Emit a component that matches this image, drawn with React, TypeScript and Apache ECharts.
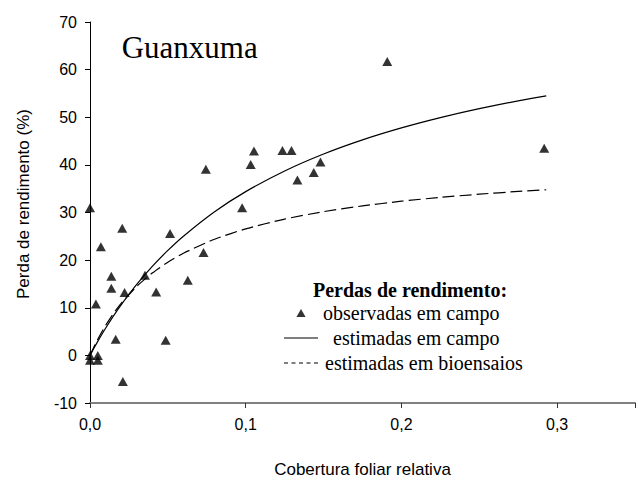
import React, { useEffect, useRef } from 'react';
import * as echarts from 'echarts';

const obsX = [
  0, 0.0207, 0.0514, 0.0744, 0.0977, 0.1032, 0.1053, 0.1236, 0.1294, 0.1332,
  0.1437, 0.148, 0.1909, 0.2917, 0.007, 0.0137, 0.0137, 0.0222, 0.0038, 0.0165,
  0.0211, 0.0353, 0.0425, 0.0486, 0.0628, 0.0729, 0, 0.005, 0, 0.005,
];
const obsY = [
  31, 26.7, 25.6, 39.1, 31.0, 40.1, 42.9, 43.0, 43.0, 36.8,
  38.4, 40.6, 61.7, 43.5, 22.8, 16.6, 14.1, 13.2, 10.8, 3.4,
  -5.5, 16.8, 13.3, 3.2, 15.8, 21.6, 0, 0, -1, -1,
];

// Fitted curves
const curveX = [
  0, 0.0025, 0.005, 0.01, 0.015, 0.02, 0.03, 0.04, 0.05, 0.06,
  0.08, 0.1, 0.125, 0.15, 0.175, 0.2, 0.225, 0.25, 0.275, 0.293,
];
const fieldY = [
  0, 1.5, 2.95, 5.69, 8.23, 10.61, 14.9, 18.68, 22.04, 25.03,
  30.16, 34.38, 38.72, 42.28, 45.25, 47.76, 49.92, 51.8, 53.44, 54.5,
];
const bioY = [
  0, 1.78, 3.4, 6.29, 8.77, 10.92, 14.48, 17.29, 19.57, 21.45,
  24.39, 26.57, 28.62, 30.18, 31.39, 32.37, 33.17, 33.85, 34.42, 34.78,
];

const xTickLabels = ['0,0', '0,1', '0,2', '0,3'];
const seriesNames = ['observadas em campo', 'estimadas em campo', 'estimadas em bioensaios'];
const chartTitle = 'Guanxuma';
const legendTitle = 'Perdas de rendimento:';
const xTitle = 'Cobertura foliar relativa';
const yTitle = 'Perda de rendimento (%)';

const SANS = '"Liberation Sans", Arial, sans-serif';
const SERIF = '"Liberation Serif", "Times New Roman", serif';

export default function App() {
  const ref = useRef<HTMLDivElement>(null);

  useEffect(() => {
    if (!ref.current) return;
    const chart = echarts.init(ref.current, null, { renderer: 'svg' });
    chart.setOption({
      animation: false,
      backgroundColor: '#ffffff',
      grid: { left: 90, top: 22, width: 552, height: 387 },
      xAxis: {
        type: 'value',
        min: 0,
        max: 0.35,
        interval: 0.1,
        name: xTitle,
        nameLocation: 'middle',
        nameGap: 58,
        nameTextStyle: { fontFamily: SANS, fontSize: 17, color: '#000' },
        axisLine: { show: true, onZero: false, lineStyle: { color: '#808080', width: 2 } },
        axisTick: { show: true, length: 5, lineStyle: { color: '#333', width: 1 } },
        splitLine: { show: false },
        axisLabel: {
          fontFamily: SANS,
          fontSize: 16,
          color: '#000',
          margin: 13,
          formatter: (v: number) => {
            const idx = Math.round(v / 0.1);
            return Math.abs(v - idx * 0.1) < 1e-6 ? xTickLabels[idx] ?? '' : '';
          },
        },
      },
      yAxis: {
        type: 'value',
        min: -10,
        max: 70,
        interval: 10,
        name: yTitle,
        nameLocation: 'middle',
        nameGap: 58,
        nameTextStyle: { fontFamily: SANS, fontSize: 17, color: '#000', padding: [0, 0, 0, 17] },
        axisLine: { show: true, onZero: false, lineStyle: { color: '#000', width: 1 } },
        axisTick: { show: true, length: 5, lineStyle: { color: '#000', width: 1 } },
        splitLine: { show: false },
        axisLabel: { fontFamily: SANS, fontSize: 16, color: '#000', margin: 13 },
      },
      legend: {
        orient: 'vertical',
        left: 284,
        top: 303,
        padding: 0,
        itemGap: 5,
        itemWidth: 34,
        itemHeight: 8,
        selectedMode: false,
        textStyle: { fontFamily: SERIF, fontSize: 20, color: '#000', lineHeight: 20 },
        data: [
          { name: seriesNames[0], icon: 'path://M4,0L8,7H0Z' },
          { name: seriesNames[1], icon: 'path://M0,0H34V1.2H0Z', textStyle: { padding: [0, 0, 0, 10] } },
          {
            name: seriesNames[2],
            icon: 'path://M0,0H4V1.2H0Z M7.5,0H11.5V1.2H7.5Z M15,0H19V1.2H15Z M22.5,0H26.5V1.2H22.5Z M30,0H34V1.2H30Z',
            textStyle: { padding: [0, 0, 0, 2] },
          },
        ],
      },
      graphic: [
        {
          type: 'text',
          x: 121.7,
          y: 47.8,
          style: {
            text: chartTitle,
            fontFamily: SERIF,
            fontSize: 31,
            fill: '#000',
            textAlign: 'left',
            textVerticalAlign: 'middle',
            verticalAlign: 'middle',
          },
        },
        {
          type: 'text',
          x: 313,
          y: 290,
          style: {
            text: legendTitle,
            fontFamily: SERIF,
            fontSize: 20,
            fontWeight: 'bold',
            fill: '#000',
            textAlign: 'left',
            textVerticalAlign: 'middle',
            verticalAlign: 'middle',
          },
        },
      ],
      series: [
        {
          name: seriesNames[1],
          type: 'line',
          data: curveX.map((x, i) => [x, fieldY[i]]),
          symbol: 'none',
          showSymbol: false,
          smooth: 0.2,
          itemStyle: { color: '#000' },
          lineStyle: { color: '#000', width: 1.2 },
          z: 2,
        },
        {
          name: seriesNames[2],
          type: 'line',
          data: curveX.map((x, i) => [x, bioY[i]]),
          symbol: 'none',
          showSymbol: false,
          smooth: 0.2,
          itemStyle: { color: '#000' },
          lineStyle: { color: '#000', width: 1.2, type: [12, 5] },
          z: 2,
        },
        {
          name: seriesNames[0],
          type: 'scatter',
          data: obsX.map((x, i) => [x, obsY[i]]),
          symbol: 'triangle',
          symbolSize: [10, 9],
          itemStyle: { color: '#000' },
          z: 3,
        },
      ],
    });
    return () => chart.dispose();
  }, []);

  return (
    <div
      ref={ref}
      style={{ position: 'absolute', left: 0, top: 0, width: 638, height: 483, background: '#fff' }}
    />
  );
}
